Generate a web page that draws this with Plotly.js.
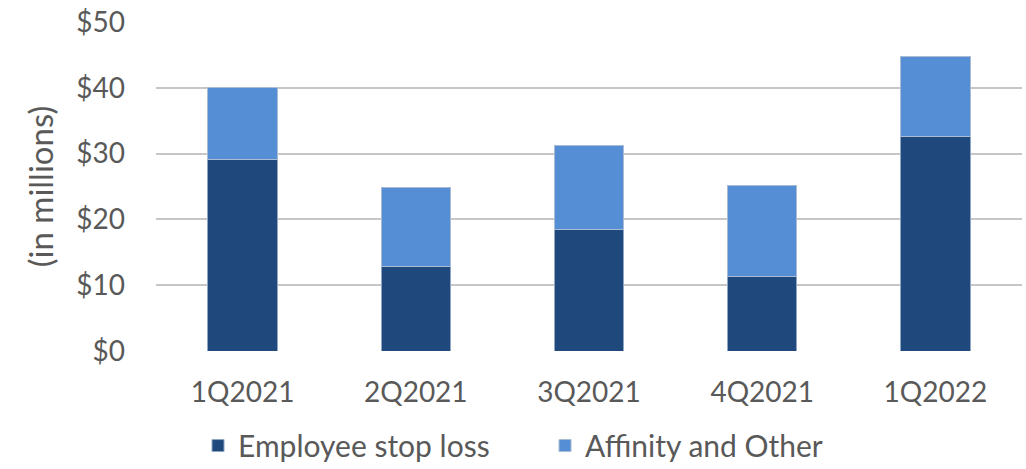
<!DOCTYPE html>
<html>
<head>
<meta charset="utf-8">
<script src="https://cdn.plot.ly/plotly-3.0.1.min.js"></script>
<style>html,body{margin:0;padding:0;background:#fff;}#chart{width:1026px;height:469px;}</style>
</head>
<body>
<div id="chart"></div>
<script>
const categories = ["1Q2021", "2Q2021", "3Q2021", "4Q2021", "1Q2022"];
const employeeStopLoss = [29.1, 12.9, 18.4, 11.3, 32.6];
const affinityTotal = [40.0, 24.8, 31.2, 25.2, 44.7];
const affinityAndOther = affinityTotal.map((t, i) => +(t - employeeStopLoss[i]).toFixed(1));
const yTickVals = [0, 10, 20, 30, 40, 50];
const yTickText = ["$0", "$10", "$20", "$30", "$40", "$50"];

const fam = "Lato, 'Open Sans', sans-serif";
const grey = "#595959";

const traces = [
  {type: "bar", name: "Employee stop loss", x: categories, y: employeeStopLoss,
   marker: {color: "#1F497D", line: {color: "#8fa6c4", width: 1}}, hoverinfo: "y"},
  {type: "bar", name: "Affinity and Other", x: categories, y: affinityAndOther,
   marker: {color: "#558ED5", line: {color: "#a9bcd3", width: 1}}, hoverinfo: "y"}
];

const layout = {
  width: 1026, height: 469,
  barmode: "stack", bargap: 0.6,
  margin: {l: 156, r: 4, t: 22, b: 118},
  paper_bgcolor: "#fff", plot_bgcolor: "#fff",
  font: {family: fam, color: grey, size: 28},
  xaxis: {showgrid: false, zeroline: false, showline: false, ticks: "",
          tickfont: {family: fam, color: grey, size: 28}, ticklabelstandoff: 22},
  yaxis: {range: [0, 50], tickvals: yTickVals, ticktext: yTickText, showgrid: true,
          gridcolor: "#c6c6c6", gridwidth: 2, zeroline: false, showline: false, ticks: "",
          tickfont: {family: fam, color: grey, size: 28}, ticklabelstandoff: 30,
          title: {text: "(in millions)", font: {family: fam, color: grey, size: 33}, standoff: 12}},
  showlegend: true,
  legend: {orientation: "h", xref: "container", yref: "container",
           x: 0.193, xanchor: "left", y: 0.05, yanchor: "middle",
           entrywidth: 302, entrywidthmode: "pixels",
           font: {family: fam, color: grey, size: 30}, traceorder: "normal", itemwidth: 30},
};

Plotly.newPlot("chart", traces, layout, {displayModeBar: false, staticPlot: true});
</script>
</body>
</html>
